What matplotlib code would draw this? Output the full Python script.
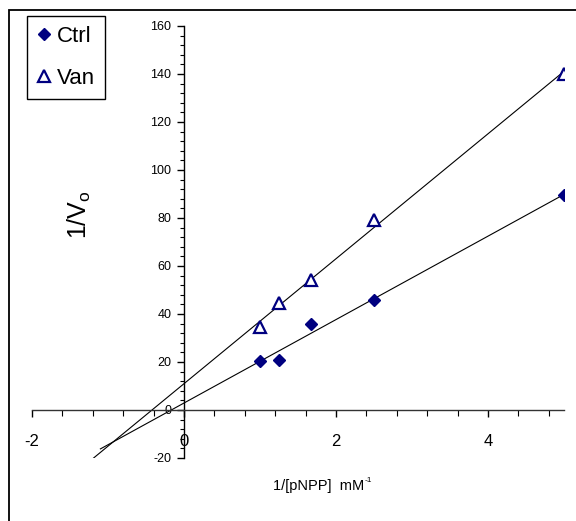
import numpy as np
import matplotlib
matplotlib.use("Agg")
import matplotlib.pyplot as plt
from matplotlib.lines import Line2D
from matplotlib.patches import Rectangle
from matplotlib.ticker import MultipleLocator

plt.rcParams['font.family'] = ['Liberation Sans', 'DejaVu Sans']
plt.rcParams['mathtext.fontset'] = 'custom'
plt.rcParams['mathtext.rm'] = 'Liberation Sans'
plt.rcParams['axes.unicode_minus'] = False

# ---- data ----
x_vals = [1.0, 1.25, 1.667, 2.5, 5.0]
ctrl_y = [20.5, 21.0, 36.0, 46.0, 89.5]
van_y = [34.5, 44.5, 54.0, 79.0, 140.0]
series_names = ["Ctrl", "Van"]
trend_start = {"Ctrl": -1.1, "Van": -1.21}
x_ticks = [-2, 0, 2, 4]
y_ticks = [-20, 0, 20, 40, 60, 80, 100, 120, 140, 160]

W, H = 576, 521
fig = plt.figure(figsize=(W / 100, H / 100), dpi=100)

# outer frame (cut at right/bottom)
fig.patches.append(Rectangle((9 / W, -0.1), 2, (1 - 10 / H) + 0.1,
                             transform=fig.transFigure, fill=False,
                             edgecolor='black', linewidth=1.3))

ax = fig.add_axes([32 / W, 1 - 458 / H, (564 - 32) / W, (458 - 26) / H])
ax.set_xlim(-2, 5)
ax.set_ylim(-20, 160)

navy = '#000080'
# trend lines
for name, ys in zip(series_names, [ctrl_y, van_y]):
    m, b = np.polyfit(x_vals, ys, 1)
    xs = np.array([trend_start[name], max(x_vals)])
    ax.plot(xs, m * xs + b, color='black', lw=0.8, zorder=2)

ax.plot(x_vals, ctrl_y, linestyle='none', marker='D', ms=6.2,
        color=navy, zorder=3)
ax.plot(x_vals, van_y, linestyle='none', marker='^', ms=8.5,
        markerfacecolor='white', markeredgecolor=navy, mew=1.6, zorder=3)

for s in ['top', 'right']:
    ax.spines[s].set_visible(False)
ax.spines['left'].set_position(('data', 0))
ax.spines['bottom'].set_position(('data', 0))
ax.spines['left'].set_linewidth(1.0)
ax.spines['bottom'].set_linewidth(1.0)
ax.spines['bottom'].set_color('#333333')
ax.patch.set_visible(False)

ax.set_xticks(x_ticks)
ax.set_yticks(y_ticks)
ax.xaxis.set_minor_locator(MultipleLocator(0.4))
ax.yaxis.set_minor_locator(MultipleLocator(4))
ax.tick_params(axis='x', which='major', direction='out', length=5, width=1,
               labelsize=12, pad=12)
ax.tick_params(axis='x', which='minor', direction='out', length=4, width=0.8)
ax.tick_params(axis='y', which='major', direction='out', length=5, width=1,
               labelsize=9, pad=4)
ax.tick_params(axis='y', which='minor', direction='out', length=3, width=0.8)

# x-axis title with superscript "-1" (hyphen, as in the original)
fig.text(364 / W, 1 - 486 / H, '1/[pNPP]  mM', ha='right',
         va='center', fontsize=10.5)
fig.text(365 / W, 1 - 481 / H, '-1', ha='left', va='center', fontsize=6)
fig.text(79 / W, 1 - 215 / H, '1/V$_{\\mathregular{o}}$', ha='center',
         va='center', rotation=90, fontsize=18)

handles = [Line2D([], [], linestyle='none', marker='D', ms=6.2, color=navy),
           Line2D([], [], linestyle='none', marker='^', ms=8.5,
                  markerfacecolor='white', markeredgecolor=navy, mew=1.6)]
leg = fig.legend(handles, series_names, loc='upper left',
                 bbox_to_anchor=(27 / W, 1 - 16 / H), borderaxespad=0,
                 fontsize=16, frameon=True, fancybox=False, framealpha=1,
                 edgecolor='black', handlelength=0.6, handletextpad=0.3,
                 labelspacing=0.95, borderpad=0.45)
leg.get_frame().set_linewidth(1.0)

fig.savefig('out.png', dpi=100)
